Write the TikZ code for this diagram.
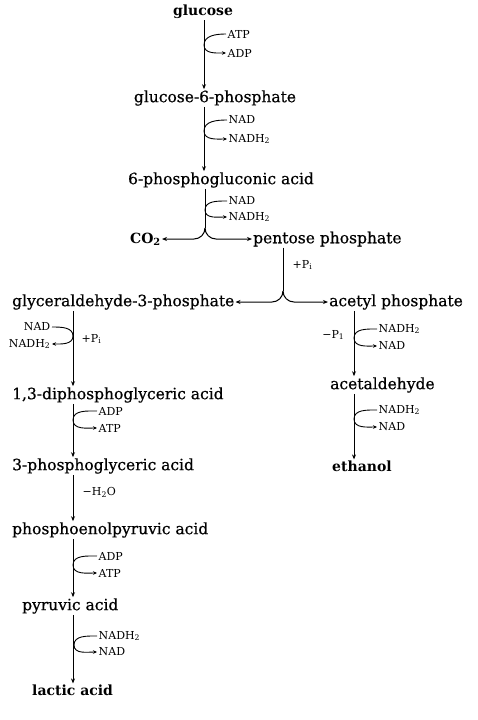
\documentclass[tikz,border=0pt]{standalone}
\usepackage{fontspec}
\setmainfont{DejaVu Serif}
\newfontfamily\cmpdfont[FakeBold=0.6]{DejaVu Serif}
\usetikzlibrary{arrows.meta, positioning, calc}
\tikzset{
	cmpd/.style ={inner sep=1pt, font=\cmpdfont\fontsize{15.5}{18}\selectfont},
	cmpdb/.style={inner sep=1pt, font=\fontsize{14}{17}\selectfont\bfseries},
	cof/.style  ={inner sep=1.5pt, font=\fontsize{11}{13}\selectfont},
	% reaction arrows
	sig/.style  ={-{Stealth[length=5pt,width=4pt]}, line width=1pt},
	side/.style ={-{Stealth[length=4pt,width=3.5pt]}, line width=0.9pt},
	stem/.style ={line width=1pt},
}

\begin{document}
\begin{tikzpicture}[x=1pt, y=-1pt]
	\useasboundingbox (0,0) rectangle (478,720);
	% columns of the main arrows
	\coordinate (cA) at (204,0);
	\coordinate (cB) at (283,0);
	\coordinate (cL) at (73,0);
	\coordinate (cR) at (354,0);
	% compounds
	\node[cmpdb] (glc) at (203,12) {glucose};
	\node[cmpd] (g6p) at (215,98) {glucose-6-phosphate};
	\node[cmpd] (pga6) at (221,180) {6-phosphogluconic acid};
	\node[cmpdb, anchor=east] (co2) at (162,239) {CO\textsubscript{2}};
	\node[cmpd, anchor=west] (pp) at (252,239) {pentose phosphate};
	\node[cmpd, anchor=west] (gap) at (11,302) {glyceraldehyde-3-phosphate};
	\node[cmpd, anchor=west] (acp) at (328,302) {acetyl phosphate};
	\node[cmpd, anchor=west] (dpg) at (11,395) {1,3-diphosphoglyceric acid};
	\node[cmpd, anchor=west] (pg3) at (11,466) {3-phosphoglyceric acid};
	\node[cmpd, anchor=west] (pep) at (11,530) {phosphoenolpyruvic acid};
	\node[cmpd, anchor=west] (pyr) at (21,606) {pyruvic acid};
	\node[cmpdb, anchor=west] (lac) at (31,690) {lactic acid};
	\node[cmpd, anchor=west] (ald) at (329,385) {acetaldehyde};
	\node[cmpdb, anchor=west] (eth) at (331,466) {ethanol};

	% glucose -> glucose-6-phosphate
	\draw[sig] (glc.south -| cA) -- (g6p.north -| cA);
	\node[cof, anchor=west] (atp1) at (226,34) {ATP};
	\node[cof, anchor=west] (adp1) at (226,53) {ADP};
	\coordinate (t1) at (204,45);
	\draw[side] (atp1.west) to[out=180,in=90] (t1) to[out=-90,in=180] (adp1.west);

	% glucose-6-phosphate -> 6-phosphogluconic acid
	\draw[sig] (g6p.south -| cA) -- (pga6.north -| cA);
	\node[cof, anchor=west] (nad2) at (227,120) {NAD};
	\node[cof, anchor=west] (nadh2) at (227,139) {NADH\textsubscript{2}};
	\coordinate (t2) at (204,131);
	\draw[side] (nad2.west) to[out=180,in=90] (t2) to[out=-90,in=180] (nadh2.west);

	% 6-phosphogluconic acid -> CO2 + pentose phosphate
	\coordinate (s1) at (205,228);
	\draw[stem] (pga6.south -| s1) -- (s1);
	\draw[sig] (s1) to[out=-90,in=0] ++(-11,11) -- (co2.east);
	\draw[sig] (s1) to[out=-90,in=180] ++(11,11) -- (pp.west);
	\node[cof, anchor=west] (nad3) at (227,201) {NAD};
	\node[cof, anchor=west] (nadh3) at (227,217) {NADH\textsubscript{2}};
	\coordinate (t3) at (205,210);
	\draw[side] (nad3.west) to[out=180,in=90] (t3) to[out=-90,in=180] (nadh3.west);

	% pentose phosphate -> glyceraldehyde-3-phosphate + acetyl phosphate
	\coordinate (s2) at (283,291);
	\draw[stem] (pp.south -| cB) -- (s2);
	\draw[sig] (s2) to[out=-90,in=0] ++(-11,11) -- (gap.east);
	\draw[sig] (s2) to[out=-90,in=180] ++(11,11) -- (acp.west);
	\node[cof, anchor=west] (pi1) at (291,265) {+P\textsubscript{i}};

	% glyceraldehyde-3-phosphate -> 1,3-diphosphoglyceric acid
	\draw[sig] (gap.south -| cL) -- (dpg.north -| cL);
	\node[cof, anchor=east] (nad5) at (52,327) {NAD};
	\node[cof, anchor=east] (nadh5) at (52,344) {NADH\textsubscript{2}};
	\coordinate (t5) at (73,336);
	\draw[side] (nad5.east) to[out=0,in=90] (t5) to[out=-90,in=0] (nadh5.east);
	\node[cof, anchor=west] (pi2) at (80,339) {+P\textsubscript{i}};

	% 1,3-diphosphoglyceric acid -> 3-phosphoglyceric acid
	\draw[sig] (dpg.south -| cL) -- (pg3.north -| cL);
	\node[cof, anchor=west] (adp6) at (97,411) {ADP};
	\node[cof, anchor=west] (atp6) at (97,428) {ATP};
	\coordinate (t6) at (73,420);
	\draw[side] (adp6.west) to[out=180,in=90] (t6) to[out=-90,in=180] (atp6.west);

	% 3-phosphoglyceric acid -> phosphoenolpyruvic acid
	\draw[sig] (pg3.south -| cL) -- (pep.north -| cL);
	\node[cof, anchor=west] (h2o) at (81,492) {−H\textsubscript{2}O};

	% phosphoenolpyruvic acid -> pyruvic acid
	\draw[sig] (pep.south -| cL) -- (pyr.north -| cL);
	\node[cof, anchor=west] (adp8) at (97,556) {ADP};
	\node[cof, anchor=west] (atp8) at (97,573) {ATP};
	\coordinate (t8) at (73,565);
	\draw[side] (adp8.west) to[out=180,in=90] (t8) to[out=-90,in=180] (atp8.west);

	% pyruvic acid -> lactic acid
	\draw[sig] (pyr.south -| cL) -- (lac.north -| cL);
	\node[cof, anchor=west] (nadh9) at (97,636) {NADH\textsubscript{2}};
	\node[cof, anchor=west] (nad9) at (97,652) {NAD};
	\coordinate (t9) at (74,645);
	\draw[side] (nadh9.west) to[out=180,in=90] (t9) to[out=-90,in=180] (nad9.west);

	% acetyl phosphate -> acetaldehyde
	\draw[sig] (acp.south -| cR) -- (ald.north -| cR);
	\node[cof, anchor=west] (nadh10) at (377,329) {NADH\textsubscript{2}};
	\node[cof, anchor=west] (nad10) at (377,346) {NAD};
	\coordinate (t10) at (354,338);
	\draw[side] (nadh10.west) to[out=180,in=90] (t10) to[out=-90,in=180] (nad10.west);
	\node[cof, anchor=east] (pi3) at (346,335) {−P\textsubscript{1}};

	% acetaldehyde -> ethanol
	\draw[sig] (ald.south -| cR) -- (eth.north -| cR);
	\node[cof, anchor=west] (nadh11) at (377,410) {NADH\textsubscript{2}};
	\node[cof, anchor=west] (nad11) at (377,427) {NAD};
	\coordinate (t11) at (354,419);
	\draw[side] (nadh11.west) to[out=180,in=90] (t11) to[out=-90,in=180] (nad11.west);
\end{tikzpicture}
\end{document}
